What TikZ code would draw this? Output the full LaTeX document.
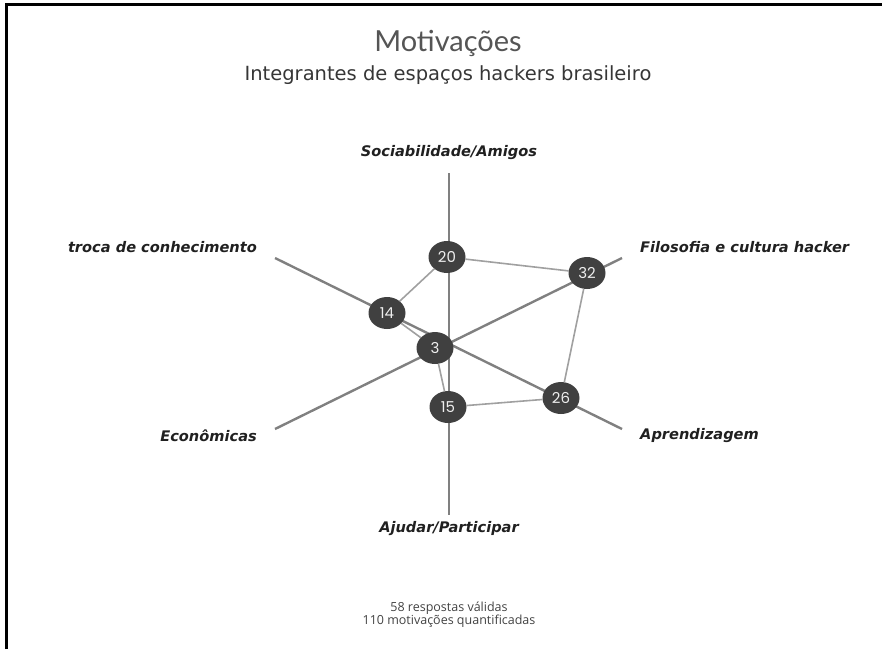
\documentclass[tikz,border=0pt]{standalone}
\usepackage{fontspec}
\usepackage{tkz-graph}
\usetikzlibrary{shapes}
\newfontfamily\labelfont{DejaVu Sans}
\newfontfamily\numfont{Poppins}
\newfontfamily\titlefont{Lato}
\newfontfamily\notefont{Open Sans}
\definecolor{axisgray}{HTML}{808080}
\definecolor{edgegray}{HTML}{A0A0A0}
\definecolor{nodegray}{HTML}{404040}
\definecolor{numtext}{HTML}{EEEEEE}
\definecolor{labeltext}{HTML}{202020}
\definecolor{titletext}{HTML}{555555}

\begin{document}
\begin{tikzpicture}[x = 1pt, y = -1pt]
	\useasboundingbox (0,0) rectangle (882,649);
	\tikzstyle{VertexStyle} = []
	\tikzstyle{EdgeStyle} = [draw = edgegray, line width = 1.6pt]
	\tikzstyle{countStyle}=[shape = ellipse, minimum width = 37pt, minimum height = 32pt, inner sep = 0pt, fill = nodegray, text = numtext, font = \numfont\fontsize{15}{15}\selectfont]
	\tikzstyle{axisStyle}=[draw = axisgray, line width = 2.4pt]
	\tikzstyle{axisLabel}=[inner sep = 0pt, text = labeltext, font = \labelfont\bfseries\itshape\fontsize{14.6}{14.6}\selectfont]
	% frame
	\draw[line width = 3pt] (6.5,649) -- (6.5,4.5) -- (882,4.5);
	% titles
	\node[text = titletext, font = \titlefont\fontsize{29}{29}\selectfont] (title) at (448,43) {Motivações};
	\node[text = labeltext!90, font = \labelfont\fontsize{19.5}{19.5}\selectfont] (subtitle) at (448,75) {Integrantes de espaços hackers brasileiro};
	% axes
	\coordinate (topEnd) at (449,173);
	\coordinate (botEnd) at (449,515);
	\coordinate (ulEnd) at (275,258);
	\coordinate (llEnd) at (275,429);
	\coordinate (urEnd) at (622,258);
	\coordinate (lrEnd) at (622,429);
	\draw[axisStyle] (topEnd) -- (botEnd);
	\draw[axisStyle] (ulEnd) -- (lrEnd);
	\draw[axisStyle] (llEnd) -- (urEnd);
	\node[axisLabel] (sociab) at (449,153) {Sociabilidade/Amigos};
	\node[axisLabel] (ajudar) at (449,529) {Ajudar/Participar};
	\node[axisLabel, anchor = east] (troca) at (257,247) {troca de conhecimento};
	\node[axisLabel, anchor = east] (econ) at (257,436) {Econômicas};
	\node[axisLabel, anchor = west] (filos) at (640,247) {Filosofia e cultura hacker};
	\node[axisLabel, anchor = west] (aprend) at (640,436) {Aprendizagem};
	% counts
	\Vertex[style = countStyle, x = 447, y = 257, L = {20}]{v20}
	\Vertex[style = countStyle, x = 587, y = 273, L = {32}]{v32}
	\Vertex[style = countStyle, x = 561, y = 398, L = {26}]{v26}
	\Vertex[style = countStyle, x = 448, y = 407, L = {15}]{v15}
	\Vertex[style = countStyle, x = 435, y = 348, L = {3}]{v3}
	\Vertex[style = countStyle, x = 387, y = 313, L = {14}]{v14}
	\Edge(v20)(v32)
	\Edge(v32)(v26)
	\Edge(v26)(v15)
	\Edge(v15)(v3)
	\Edge(v3)(v14)
	\Edge(v14)(v20)
	% footnote
	\node[text = labeltext!85, font = \notefont\fontsize{12.5}{13}\selectfont, align = center] (note) at (449,615) {58 respostas válidas\\110 motivações quantificadas};
\end{tikzpicture}
\end{document}
